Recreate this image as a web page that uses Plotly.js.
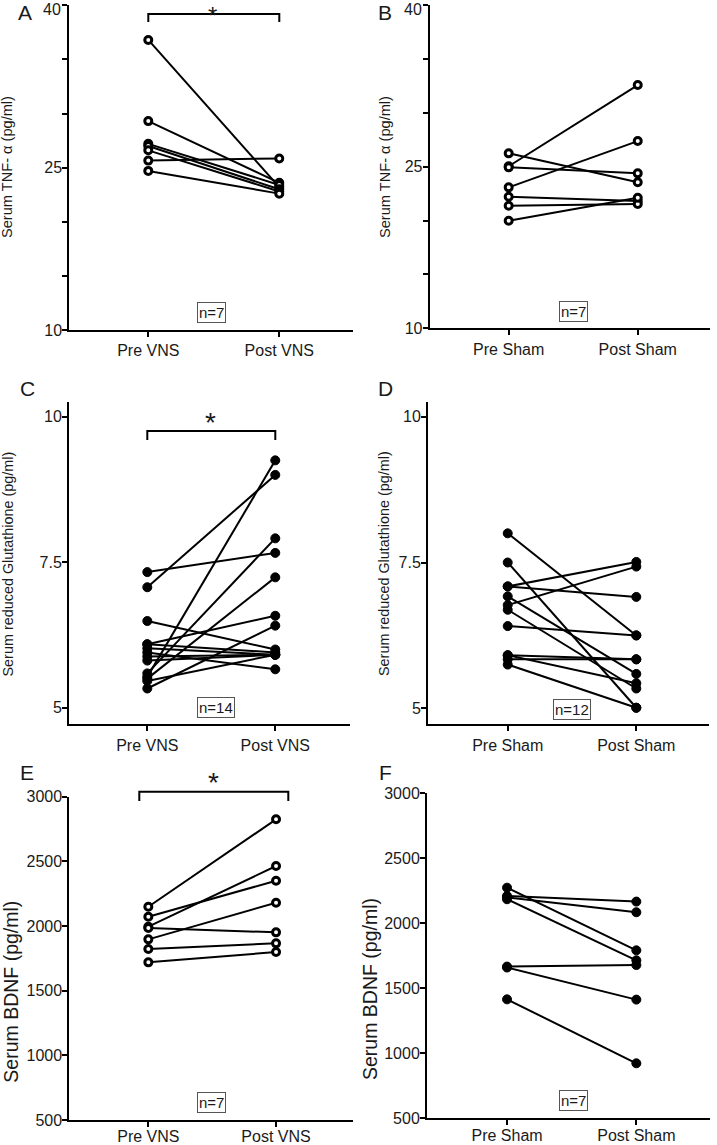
<!DOCTYPE html>
<html>
<head>
<meta charset="utf-8">
<script src="https://cdn.plot.ly/plotly-3.0.1.min.js"></script>
<style>html,body{margin:0;padding:0;background:#fff;}#chart{width:717px;height:1145px;}</style>
</head>
<body>
<div id="chart"></div>
<script>
// ---- data ----
const vnsLabels = ['Pre VNS', 'Post VNS'];
const shamLabels = ['Pre Sham', 'Post Sham'];

const tnfVnsPre  = [36.8, 29.3, 27.2, 27.0, 26.6, 25.65, 24.7];
const tnfVnsPost = [23.2, 23.6, 23.4, 23.0, 22.8, 25.85, 22.6];
const tnfShamPre  = [25.05, 23.09, 26.25, 24.95, 22.22, 21.38, 19.99];
const tnfShamPost = [32.59, 27.39, 23.56, 24.39, 21.82, 21.54, 22.13];

const gshVnsPre  = [7.33, 7.07, 6.49, 6.09, 5.53, 5.59, 5.50, 5.33, 6.02, 5.95, 5.88, 5.81, 5.46, 6.09];
const gshVnsPost = [7.66, 9.00, 6.00, 6.58, 9.25, 7.91, 7.24, 6.41, 5.91, 5.66, 5.91, 5.91, 5.91, 5.95];
const gshShamPre  = [8.00, 7.50, 7.09, 7.09, 6.92, 6.77, 6.69, 6.41, 5.91, 5.91, 5.75, 5.84];
const gshShamPost = [6.25, 5.01, 7.51, 6.91, 5.59, 7.43, 5.34, 6.25, 5.84, 5.43, 5.01, 5.84];

const bdnfVnsPre  = [2149, 2072, 1995, 1985, 1897, 1822, 1719];
const bdnfVnsPost = [2825, 2350, 2464, 1951, 2180, 1866, 1799];
const bdnfShamPre  = [2274, 2210, 2200, 2185, 1667, 1660, 1415];
const bdnfShamPost = [1792, 2167, 2085, 1715, 1679, 1413, 923];

const tnfTicks = [10, 15, 20, 25, 30, 35, 40];
const tnfTickText = ['10', '', '', '25', '', '', '40'];
const gshTicks = [5, 7.5, 10];
const gshTickText = ['5', '7.5', '10'];
const bdnfTicks = [500, 1000, 1500, 2000, 2500, 3000];
const bdnfTickText = ['500', '1000', '1500', '2000', '2500', '3000'];

// ---- layout helpers ----
const W = 717, H = 1145;
const px = x => x / W;
const py = y => 1 - y / H;
const FONT = 'Liberation Sans, Arial, sans-serif';
const INK = '#1a1a1a';

const panels = [
  {letter:'A', pre:tnfVnsPre, post:tnfVnsPost, cats:vnsLabels, ticks:tnfTicks, tt:tnfTickText, title:'Serum TNF- α (pg/ml)', tfs:14.6,
   L:69.3, R:353, T:5.3, B:330, yr:[10,40], xr:[-0.603,1.563], n:'n=7', nx:211.5, ny:313, tx:7.5, ty:167.5, lx:25, ly:12, open:true, xs:0, topLabel:9.5},
  {letter:'B', pre:tnfShamPre, post:tnfShamPost, cats:shamLabels, ticks:tnfTicks, tt:tnfTickText, title:'Serum TNF- α (pg/ml)', tfs:14.6,
   L:429.7, R:710, T:5.3, B:328.3, yr:[10,40], xr:[-0.612,1.56], n:'n=7', nx:573, ny:311.7, tx:385.5, ty:167.5, lx:385, ly:12, open:true, xs:0, topLabel:9.5},
  {letter:'C', pre:gshVnsPre, post:gshVnsPost, cats:vnsLabels, ticks:gshTicks, tt:gshTickText, title:'Serum reduced Glutathione (pg/ml)', tfs:14.4,
   L:69, R:350, T:401.7, B:724.3, yr:[4.715,10.258], xr:[-0.612,1.584], n:'n=14', nx:216.3, ny:707.8, tx:7.5, ty:564, lx:27, ly:388, open:false, xs:0},
  {letter:'D', pre:gshShamPre, post:gshShamPost, cats:shamLabels, ticks:gshTicks, tt:gshTickText, title:'Serum reduced Glutathione (pg/ml)', tfs:14.4,
   L:428, R:708.7, T:401.7, B:724.3, yr:[4.726,10.257], xr:[-0.62,1.563], n:'n=12', nx:571.7, ny:709.5, tx:384, ty:563, lx:385, ly:388, open:false, xs:0},
  {letter:'E', pre:bdnfVnsPre, post:bdnfVnsPost, cats:vnsLabels, ticks:bdnfTicks, tt:bdnfTickText, title:'Serum BDNF (pg/ml)', tfs:19.5,
   L:69.3, R:353.3, T:796.7, B:1120, yr:[500,3000], xr:[-0.619,1.605], n:'n=7', nx:211.8, ny:1102, tx:11, ty:991.7, lx:27, ly:772, open:true, xs:-4},
  {letter:'F', pre:bdnfShamPre, post:bdnfShamPost, cats:shamLabels, ticks:bdnfTicks, tt:bdnfTickText, title:'Serum BDNF (pg/ml)', tfs:19.5,
   L:427, R:710.3, T:793.3, B:1118.3, yr:[500,3000], xr:[-0.619,1.572], n:'n=7', nx:573.3, ny:1100, tx:370, ty:989, lx:385, ly:772, open:false, xs:-4}
];

const traces = [];
const layout = {
  width: W, height: H,
  margin: {l:0, r:0, t:0, b:0},
  paper_bgcolor: 'white', plot_bgcolor: 'white',
  showlegend: false,
  font: {family: FONT, color: INK},
  annotations: [], shapes: []
};

panels.forEach((p, i) => {
  const k = i + 1;
  const sfx = (k === 1 ? '' : String(k));
  const xa = 'x' + sfx, ya = 'y' + sfx;
  const xs = [], ys = [];
  p.pre.forEach((v, j) => { xs.push(0, 1, null); ys.push(v, p.post[j], null); });
  traces.push({
    type: 'scatter', mode: 'lines+markers', x: xs, y: ys, xaxis: xa, yaxis: ya,
    line: {color: 'black', width: 2},
    marker: p.open
      ? {symbol: 'circle', size: 7, color: 'white', line: {color: 'black', width: 3}}
      : {symbol: 'circle', size: 9, color: 'black', line: {color: 'black', width: 1}},
    cliponaxis: false, hoverinfo: 'skip'
  });
  // top tick label of TNF panels is placed just below the tick, as in the figure
  let ttext = p.tt.slice();
  if (p.topLabel) {
    const topTxt = ttext[ttext.length - 1];
    ttext[ttext.length - 1] = '';
    layout.annotations.push({
      xref:'paper', yref:'paper', x:px(p.L - 6), y:py(p.topLabel), text:topTxt, showarrow:false,
      xanchor:'right', yanchor:'middle', font:{family:FONT, size:16, color:INK}
    });
  }
  layout['xaxis' + sfx] = {
    domain: [px(p.L), px(p.R)], range: p.xr, anchor: ya,
    tickvals: [0, 1], ticktext: p.cats, ticks: 'outside', ticklen: 5, tickwidth: 2, tickcolor: 'black',
    showline: true, linecolor: 'black', linewidth: 2, showgrid: false, zeroline: false,
    ticklabelstandoff: p.xs,
    tickfont: {family: FONT, size: 16, color: INK}, fixedrange: true
  };
  layout['yaxis' + sfx] = {
    domain: [py(p.B), py(p.T)], range: p.yr, anchor: xa,
    tickvals: p.ticks, ticktext: ttext, ticks: 'outside', ticklen: 5, tickwidth: 2, tickcolor: 'black',
    showline: true, linecolor: 'black', linewidth: 2, showgrid: false, zeroline: false,
    ticklabelstandoff: -3,
    tickfont: {family: FONT, size: 16, color: INK}, fixedrange: true
  };
  layout.annotations.push({
    xref:'paper', yref:'paper', x:px(p.lx), y:py(p.ly), text:p.letter, showarrow:false,
    xanchor:'center', yanchor:'middle', font:{family:FONT, size:21, color:INK}
  });
  layout.annotations.push({
    xref:'paper', yref:'paper', x:px(p.tx), y:py(p.ty), text:p.title, showarrow:false, textangle:-90,
    xanchor:'center', yanchor:'middle', font:{family:FONT, size:p.tfs, color:INK}
  });
  layout.annotations.push({
    xref:'paper', yref:'paper', x:px(p.nx), y:py(p.ny), text:p.n, showarrow:false,
    xanchor:'center', yanchor:'middle', font:{family:FONT, size:15, color:INK},
    bordercolor:'#555', borderwidth:1, borderpad:1, bgcolor:'white'
  });
});

// significance brackets (A, C, E)
const brackets = [
  {x0:148.3, x1:279.3, top:14, bot:22, sx:212.5, sy:0, fs:24},
  {x0:147.3, x1:275.3, top:431, bot:440, sx:210.7, sy:405, fs:28},
  {x0:139.3, x1:288.3, top:791.7, bot:801, sx:213.3, sy:765, fs:28}
];
brackets.forEach(b => {
  layout.shapes.push({
    type:'path', xref:'paper', yref:'paper',
    path:`M ${px(b.x0)} ${py(b.bot)} L ${px(b.x0)} ${py(b.top)} L ${px(b.x1)} ${py(b.top)} L ${px(b.x1)} ${py(b.bot)}`,
    line:{color:'black', width:2}
  });
  layout.annotations.push({
    xref:'paper', yref:'paper', x:px(b.sx), y:py(b.sy), text:'*', showarrow:false,
    xanchor:'center', yanchor:'top', font:{family:FONT, size:b.fs, color:INK}
  });
});

Plotly.newPlot('chart', traces, layout, {staticPlot: true, displayModeBar: false});
</script>
</body>
</html>
